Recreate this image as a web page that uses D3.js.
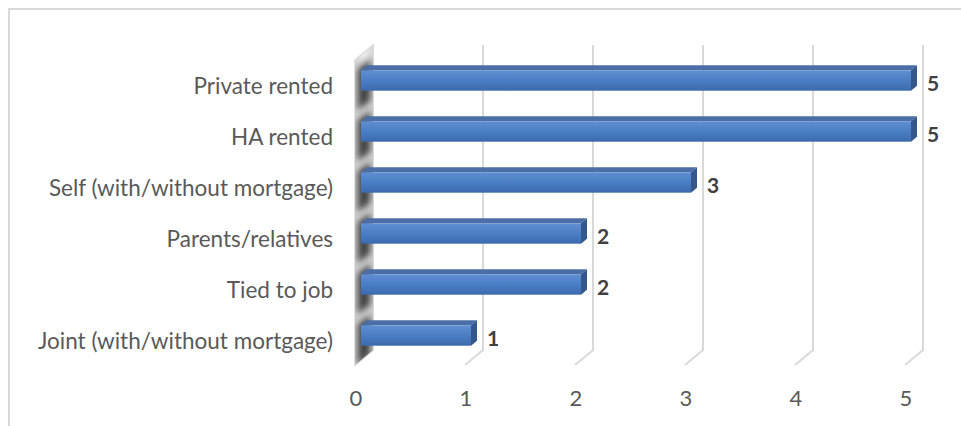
<!DOCTYPE html>
<html>
<head>
<meta charset="utf-8">
<script src="https://cdn.jsdelivr.net/npm/d3@7"></script>
<style>
  html, body { margin: 0; padding: 0; background: #fff; }
  svg { display: block; }
</style>
</head>
<body>
<svg id="chart" width="961" height="426"></svg>
<script>
// Tenure of respondents' homes (count)
const categories = [
  "Private rented",
  "HA rented",
  "Self (with/without mortgage)",
  "Parents/relatives",
  "Tied to job",
  "Joint (with/without mortgage)"
];
const counts = [5, 5, 3, 2, 2, 1];
const tickValues = [0, 1, 2, 3, 4, 5];

const svg = d3.select("#chart");
const W = 961, H = 426;

// 3D projection: depth 0 = front plane, depth 1 = back wall
const DX = 18, DY = -15;
const x = d3.scaleLinear().domain([0, 5]).range([355, 905]);
const y = d3.scaleBand().domain(categories).range([60, 366]).paddingInner(0.6).paddingOuter(0.3);
const P = (v, yy, d) => [x(v) + d * DX, yy + d * DY];
const poly = pts => "M" + pts.map(p => p.join(",")).join("L") + "Z";

const defs = svg.append("defs");
const gFront = defs.append("linearGradient").attr("id", "front").attr("x1", 0).attr("y1", 0).attr("x2", 0).attr("y2", 1);
gFront.append("stop").attr("offset", "0%").attr("stop-color", "#5f8fd3");
gFront.append("stop").attr("offset", "55%").attr("stop-color", "#4a7cc3");
gFront.append("stop").attr("offset", "100%").attr("stop-color", "#3b69ad");
const gWall = defs.append("linearGradient").attr("id", "wall").attr("x1", 0).attr("y1", 0).attr("x2", 1).attr("y2", 0);
gWall.append("stop").attr("offset", "0%").attr("stop-color", "#d8d8d8");
gWall.append("stop").attr("offset", "50%").attr("stop-color", "#f2f2f2");
gWall.append("stop").attr("offset", "100%").attr("stop-color", "#d4d4d4");
defs.append("filter").attr("id", "blur").attr("x", "-50%").attr("y", "-50%").attr("width", "200%").attr("height", "200%")
  .append("feGaussianBlur").attr("stdDeviation", 3.5);
defs.append("clipPath").attr("id", "wallclip").append("path")
  .attr("d", poly([P(0, 60, 0), P(0, 60, 1), P(0, 365, 1), P(0, 365, 0)]));

// chart frame
svg.append("rect").attr("x", 9).attr("y", 9).attr("width", W).attr("height", H)
  .attr("fill", "#fff").attr("stroke", "#d9d9d9").attr("stroke-width", 2);

// gridlines: up the back wall, then across the floor to the front
const grid = svg.append("g");
tickValues.forEach(t => {
  const top = P(t, 60, 1), bot = P(t, 365, 1), fr = P(t, 365, 0);
  grid.append("path")
    .attr("d", `M${top[0]},${top[1]}L${bot[0]},${bot[1]}L${fr[0]},${fr[1]}`)
    .attr("fill", "none").attr("stroke", "#d9d9d9").attr("stroke-width", 2);
});

// left side wall with bar shadows
const wall = svg.append("g");
wall.append("path")
  .attr("d", poly([P(0, 60, 0), P(0, 60, 1), P(0, 365, 1), P(0, 365, 0)]))
  .attr("fill", "url(#wall)").attr("stroke", "#d9d9d9").attr("stroke-width", 1.5);
const shadows = wall.append("g").attr("clip-path", "url(#wallclip)");
categories.forEach(c => {
  const y0 = y(c), y1 = y(c) + y.bandwidth();
  shadows.append("path")
    .attr("d", poly([P(0, y0 - 4, 0.15), P(0, y0 - 4, 0.85), P(0, y1 + 18, 0.85), P(0, y1 + 18, 0.15)]))
    .attr("fill", "#1e1e1e").attr("opacity", 0.85).attr("filter", "url(#blur)");
});

// bars, sitting in the middle third of the depth
const d0 = 1 / 3, d1 = 2 / 3;
const bars = svg.append("g");
categories.forEach((c, i) => {
  const v = counts[i];
  const y0 = y(c), y1 = y(c) + y.bandwidth();
  const g = bars.append("g");
  // top face
  g.append("path").attr("d", poly([P(0, y0, d0), P(v, y0, d0), P(v, y0, d1), P(0, y0, d1)]))
    .attr("fill", "#4a6ea5");
  // end face
  g.append("path").attr("d", poly([P(v, y0, d0), P(v, y0, d1), P(v, y1, d1), P(v, y1, d0)]))
    .attr("fill", "#34578c");
  // front face
  const a = P(0, y0, d0), b = P(v, y1, d0);
  g.append("rect").attr("x", a[0]).attr("y", a[1]).attr("width", b[0] - a[0]).attr("height", b[1] - a[1])
    .attr("fill", "url(#front)");
  // value label
  const lp = P(v, (y0 + y1) / 2, d1);
  svg.append("text").attr("x", lp[0] + 10).attr("y", lp[1] + 7)
    .attr("font-family", "Lato, 'Open Sans', sans-serif").attr("font-weight", "bold")
    .attr("font-size", 21).attr("fill", "#404040").attr("dominant-baseline", "central")
    .text(v);
});

// category labels
categories.forEach(c => {
  svg.append("text").attr("x", 333).attr("y", y(c) + y.bandwidth() / 2)
    .attr("text-anchor", "end").attr("dominant-baseline", "central")
    .attr("font-family", "Lato, 'Open Sans', sans-serif").attr("font-size", 22.5)
    .attr("fill", "#595959").text(c);
});

// value axis labels
tickValues.forEach(t => {
  svg.append("text").attr("x", x(t) + 1).attr("y", 397)
    .attr("text-anchor", "middle").attr("dominant-baseline", "central")
    .attr("font-family", "Lato, 'Open Sans', sans-serif").attr("font-size", 22)
    .attr("fill", "#595959").text(t);
});
</script>
</body>
</html>
